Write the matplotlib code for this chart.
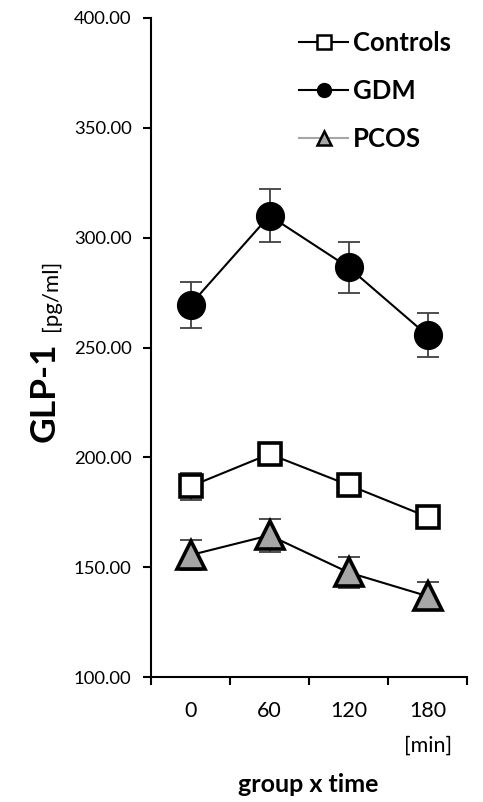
import matplotlib
matplotlib.use("Agg")
import matplotlib.pyplot as plt
from matplotlib.lines import Line2D
import numpy as np

times = ["0", "60", "120", "180"]
controls = [186.8, 201.5, 187.4, 172.9]
controls_err = [6, 5, 5, 4]
gdm = [269.5, 310.0, 286.5, 255.5]
gdm_err = [10.5, 12, 11.5, 10]
pcos = [155.5, 164.5, 147.6, 136.8]
pcos_err = [7, 7.5, 7, 6.5]
yticks = [100, 150, 200, 250, 300, 350, 400]

plt.rcParams['font.family'] = ['Lato', 'DejaVu Sans']

fig = plt.figure(figsize=(4.83, 8.02), dpi=100)
ax = fig.add_axes([151/483, 1-677/802, (467-151)/483, (677-18)/802])

x = np.arange(len(times))
ecol = '#404040'
# error bars behind markers
for vals, errs in [(gdm, gdm_err), (controls, controls_err), (pcos, pcos_err)]:
    ax.errorbar(x, vals, yerr=errs, fmt='none', ecolor=ecol, elinewidth=1.3,
                capsize=8, capthick=1.3, zorder=2)

ax.plot(x, gdm, '-', color='black', lw=1.5, marker='o', markersize=20,
        markerfacecolor='black', markeredgecolor='black', zorder=3)
ax.plot(x, controls, '-', color='black', lw=1.5, marker='s', markersize=16,
        markerfacecolor='white', markeredgecolor='black', markeredgewidth=2.6, zorder=3)
ax.plot(x, pcos, '-', color='black', lw=1.5, marker='^', markersize=20,
        markerfacecolor='#a6a6a6', markeredgecolor='black', markeredgewidth=2.6, zorder=3)

ax.set_xlim(-0.5, 3.5)
ax.set_ylim(100, 400)
ax.set_yticks(yticks)
ax.set_yticklabels([f"{v:.2f}" for v in yticks], fontsize=13.3)
ax.set_xticks(np.arange(-0.5, 4.0, 1.0))
ax.set_xticklabels([])
ax.set_xticks(x, minor=True)
ax.set_xticklabels(times, minor=True, fontsize=15.5)
ax.tick_params(axis='x', which='minor', length=0, pad=17)
ax.tick_params(axis='x', which='major', length=6, width=1.5, direction='out')
ax.tick_params(axis='y', length=6, width=1.5, direction='out', pad=8)
for s in ['top', 'right']:
    ax.spines[s].set_visible(False)
for s in ['left', 'bottom']:
    ax.spines[s].set_linewidth(1.5)

# legend
handles = [
    Line2D([], [], color='black', lw=1.5, marker='s', markersize=10,
           markerfacecolor='white', markeredgecolor='black', markeredgewidth=1.8),
    Line2D([], [], color='black', lw=1.5, marker='o', markersize=10,
           markerfacecolor='black', markeredgecolor='black'),
    Line2D([], [], color='#a6a6a6', lw=1.5, marker='^', markersize=10,
           markerfacecolor='#a6a6a6', markeredgecolor='black', markeredgewidth=1.8),
]
leg = ax.legend(handles, ['Controls', 'GDM', 'PCOS'], loc='upper left',
                bbox_to_anchor=((276 - 151) / (467 - 151), 1.015), frameon=False,
                handlelength=1.9, handletextpad=0.2, labelspacing=0.92,
                prop={'family': 'Lato', 'weight': 'bold', 'size': 18.5})

# y label
fig.text(55/483, 1-442/802, "GLP-1", rotation=90, rotation_mode='anchor',
         ha='left', va='baseline', fontsize=25.5, fontweight='bold')
fig.text(57/483, 1-331/802, "[pg/ml]", rotation=90, rotation_mode='anchor',
         ha='left', va='baseline', fontsize=16)

fig.text(428/483, 1-746/802, "[min]", ha='center', va='center', fontsize=15.5)
fig.text(308/483, 1-785/802, "group x time", ha='center', va='center',
         fontsize=18, fontweight='bold')

fig.savefig("out.png", dpi=100)
